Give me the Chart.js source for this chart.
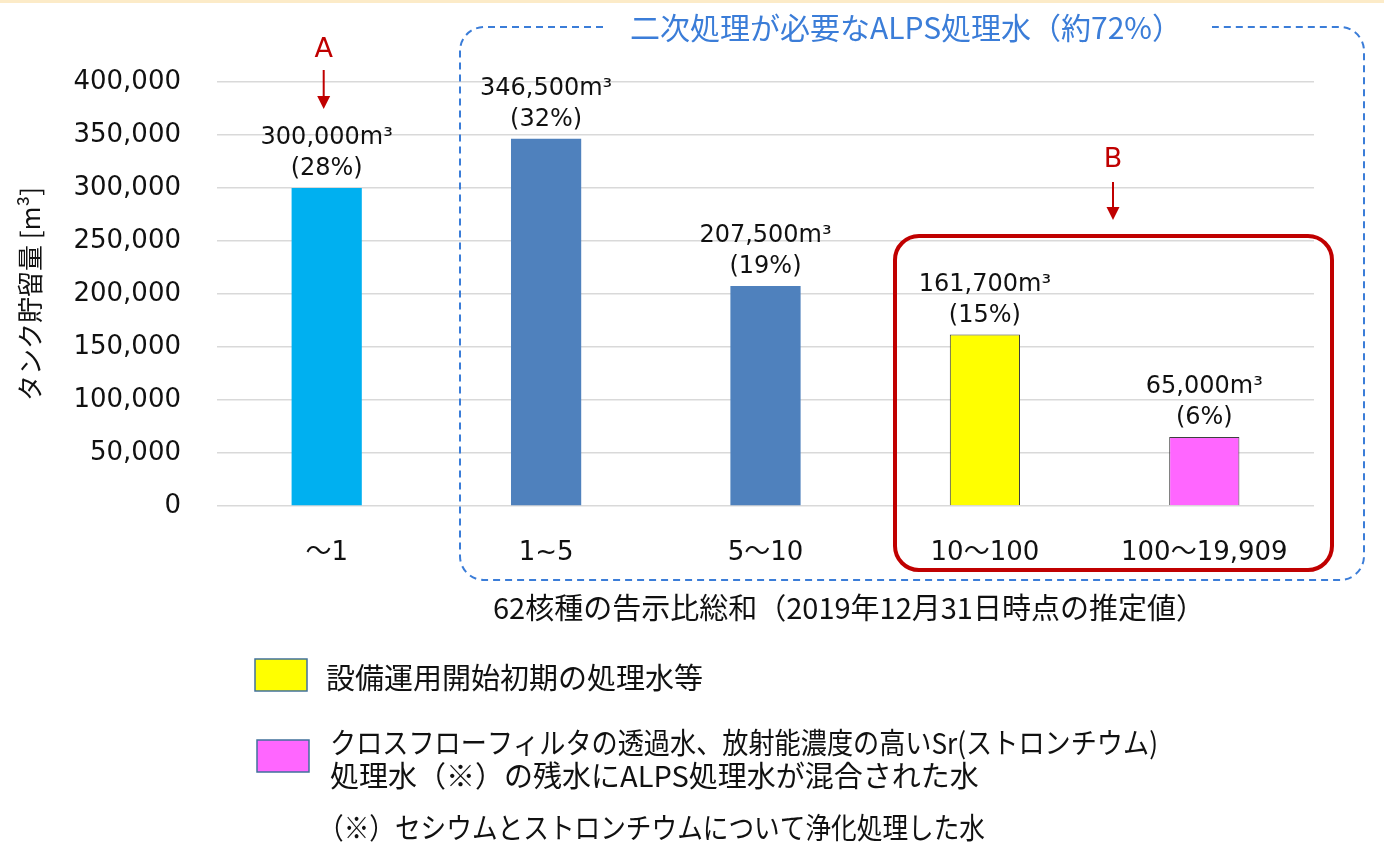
<!DOCTYPE html>
<html>
<head>
<meta charset="utf-8">
<script src="https://cdn.jsdelivr.net/npm/chart.js@4/dist/chart.umd.min.js"></script>
<style>
  html, body { margin: 0; padding: 0; background: #fff; }
</style>
</head>
<body>
<canvas id="tankChart" width="1384" height="855"></canvas>
<script>
// 62核種の告示比総和ごとのタンク貯留量
const categories = ["～1", "1~5", "5～10", "10～100", "100～19,909"];
const storage = [300000, 346500, 207500, 161700, 65000];
const shares = [28, 32, 19, 15, 6];
const barColors = ["#00B0F0", "#4F81BD", "#4F81BD", "#FFFF00", "#FF66FF"];
const barEdges = ["#00B0F0", "#4F81BD", "#4F81BD", "#3F3F3F", "#3F3F3F"];

const yTitle = "タンク貯留量 [m³]";
const xTitle = "62核種の告示比総和（2019年12月31日時点の推定値）";
const groupTitle = "二次処理が必要なALPS処理水（約72%）";
const legendLines = [
  "設備運用開始初期の処理水等",
  "クロスフローフィルタの透過水、放射能濃度の高いSr(ストロンチウム)",
  "処理水（※）の残水にALPS処理水が混合された水"
];
const footnote = "（※）セシウムとストロンチウムについて浄化処理した水";

const JP = '"Noto Sans CJK JP", sans-serif';
const LATIN = '"DejaVu Sans", "Noto Sans CJK JP", sans-serif';
const RED = "#C00000";
const BLUE = "#3B7DD8";
const INK = "#111111";

function roundRect(ctx, l, t, r, b, rad) {
  ctx.beginPath();
  ctx.moveTo(l + rad, t);
  ctx.lineTo(r - rad, t);
  ctx.arcTo(r, t, r, t + rad, rad);
  ctx.lineTo(r, b - rad);
  ctx.arcTo(r, b, r - rad, b, rad);
  ctx.lineTo(l + rad, b);
  ctx.arcTo(l, b, l, b - rad, rad);
  ctx.lineTo(l, t + rad);
  ctx.arcTo(l, t, l + rad, t, rad);
  ctx.closePath();
}

function downArrow(ctx, x, y1, y2) {
  ctx.strokeStyle = RED;
  ctx.fillStyle = RED;
  ctx.lineWidth = 2;
  ctx.beginPath();
  ctx.moveTo(x, y1);
  ctx.lineTo(x, y2 - 10);
  ctx.stroke();
  ctx.beginPath();
  ctx.moveTo(x - 6.5, y2 - 13);
  ctx.lineTo(x + 6.5, y2 - 13);
  ctx.lineTo(x, y2);
  ctx.closePath();
  ctx.fill();
}

const pagePlugin = {
  id: "page",
  beforeDraw(chart) {
    const ctx = chart.ctx;
    ctx.save();
    ctx.fillStyle = "#FFFFFF";
    ctx.fillRect(0, 0, chart.width, chart.height);
    ctx.fillStyle = "#FCEBC8";
    ctx.fillRect(0, 0, chart.width, 3);
    ctx.restore();
  },
  afterDatasetsDraw(chart) {
    const ctx = chart.ctx;
    ctx.save();
    ctx.fillStyle = INK;
    ctx.textAlign = "center";
    ctx.textBaseline = "middle";
    ctx.font = "24px " + LATIN;
    chart.getDatasetMeta(0).data.forEach((bar, i) => {
      ctx.fillText(storage[i].toLocaleString("en-US") + "m³", bar.x, bar.y - 50);
      ctx.fillText("(" + shares[i] + "%)", bar.x, bar.y - 19);
    });
    ctx.restore();
  },
  afterDraw(chart) {
    const ctx = chart.ctx;
    const x = chart.scales.x;
    ctx.save();

    // blue dashed group box with a gap for its title
    const bl = 460, bt = 27, br = 1364, bb = 580, rad = 24;
    ctx.strokeStyle = BLUE;
    ctx.lineWidth = 2;
    ctx.setLineDash([7, 5]);
    ctx.beginPath();
    ctx.moveTo(603, bt);
    ctx.lineTo(bl + rad, bt);
    ctx.arcTo(bl, bt, bl, bt + rad, rad);
    ctx.lineTo(bl, bb - rad);
    ctx.arcTo(bl, bb, bl + rad, bb, rad);
    ctx.lineTo(br - rad, bb);
    ctx.arcTo(br, bb, br, bb - rad, rad);
    ctx.lineTo(br, bt + rad);
    ctx.arcTo(br, bt, br - rad, bt, rad);
    ctx.lineTo(1212, bt);
    ctx.stroke();
    ctx.setLineDash([]);

    ctx.fillStyle = BLUE;
    ctx.font = "30px " + JP;
    ctx.textAlign = "center";
    ctx.textBaseline = "middle";
    ctx.fillText(groupTitle, 906, 28, 565);

    // red box around 10～100 and 100～19,909
    ctx.strokeStyle = RED;
    ctx.lineWidth = 4;
    roundRect(ctx, 895, 236, 1332, 570, 24);
    ctx.stroke();

    // A / B markers
    ctx.font = "27px " + LATIN;
    ctx.fillStyle = RED;
    const ax = x.getPixelForValue(0) - 3;
    ctx.fillText("A", ax, 50);
    downArrow(ctx, ax, 70, 109);
    ctx.fillStyle = RED;
    ctx.fillText("B", 1113, 160);
    downArrow(ctx, 1113, 182, 220);

    // x axis title
    ctx.fillStyle = INK;
    ctx.font = "29px " + JP;
    ctx.textAlign = "left";
    ctx.fillText(xTitle, 493, 608, 765);

    // legend
    ctx.lineWidth = 1.5;
    ctx.strokeStyle = "#41719C";
    ctx.fillStyle = "#FFFF00";
    ctx.fillRect(255, 659, 52, 32);
    ctx.strokeRect(255, 659, 52, 32);
    ctx.fillStyle = "#FF66FF";
    ctx.fillRect(257, 740, 52, 32);
    ctx.strokeRect(257, 740, 52, 32);

    ctx.fillStyle = INK;
    ctx.font = "29px " + JP;
    ctx.fillText(legendLines[0], 326, 678, 402);
    ctx.fillText(legendLines[1], 330, 743, 828);
    ctx.fillText(legendLines[2], 330, 776, 670);
    ctx.fillText(footnote, 318, 828, 667);

    ctx.restore();
  }
};

new Chart(document.getElementById("tankChart").getContext("2d"), {
  type: "bar",
  data: {
    labels: categories,
    datasets: [{
      data: storage,
      backgroundColor: barColors,
      borderColor: barEdges,
      borderWidth: [0, 0, 0, 1, 1],
      categoryPercentage: 1.0,
      barPercentage: 0.32
    }]
  },
  options: {
    responsive: false,
    animation: false,
    layout: { padding: { top: 82, right: 70, bottom: 0, left: 0 } },
    plugins: { legend: { display: false }, tooltip: { enabled: false } },
    scales: {
      x: {
        grid: { display: false },
        border: { display: false },
        ticks: { color: INK, padding: 24, font: { family: LATIN, size: 26 } },
        afterFit(s) { s.height = 349; }
      },
      y: {
        min: 0,
        max: 400000,
        ticks: {
          stepSize: 50000,
          padding: 36,
          color: INK,
          font: { family: LATIN, size: 26 },
          callback: v => v.toLocaleString("en-US")
        },
        grid: { color: "#D9D9D9", lineWidth: 1.5, drawTicks: false },
        border: { display: false },
        title: {
          display: true,
          text: yTitle,
          color: INK,
          font: { family: JP, size: 26 },
          padding: { top: 15, bottom: 0 }
        },
        afterFit(s) { s.width = 217; }
      }
    }
  },
  plugins: [pagePlugin]
});
</script>
</body>
</html>
